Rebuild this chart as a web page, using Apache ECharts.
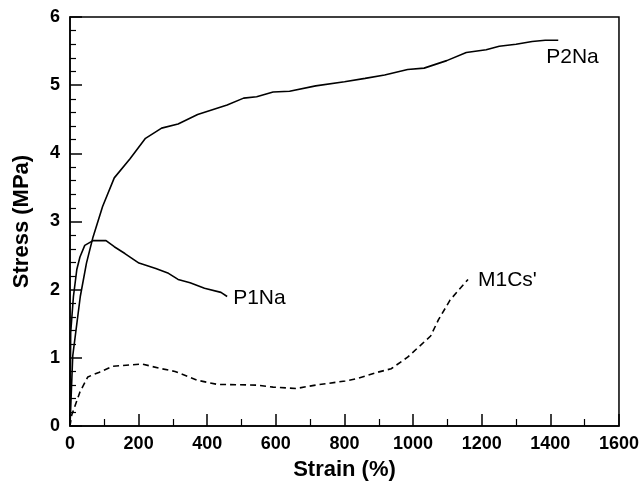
<!DOCTYPE html>
<html>
<head>
<meta charset="utf-8">
<script src="https://cdn.jsdelivr.net/npm/echarts@6/dist/echarts.min.js"></script>
<style>
  html, body { margin: 0; padding: 0; background: #fff; }
  #chart { width: 642px; height: 486px; }
</style>
</head>
<body>
<div id="chart"></div>
<script>
// strain (%) / stress (MPa)
var p2naStrain = [0, 8, 30, 48, 67, 95, 129, 175, 220, 267, 315, 372, 458, 506, 544, 592, 640, 716, 800, 860, 917, 984, 1032, 1098, 1155, 1213, 1251, 1300, 1347, 1385, 1423];
var p2naStress = [0, 1.03, 1.9, 2.39, 2.77, 3.22, 3.64, 3.92, 4.22, 4.37, 4.43, 4.57, 4.71, 4.81, 4.83, 4.9, 4.91, 4.99, 5.05, 5.1, 5.15, 5.23, 5.25, 5.36, 5.48, 5.52, 5.57, 5.6, 5.64, 5.66, 5.66];

var p1naStrain = [0, 2, 10, 20, 29, 43, 67, 105, 129, 160, 201, 250, 287, 315, 350, 392, 440, 458];
var p1naStress = [0, 1.37, 1.9, 2.3, 2.48, 2.65, 2.72, 2.72, 2.63, 2.53, 2.39, 2.31, 2.24, 2.15, 2.1, 2.02, 1.96, 1.9];

var m1csStrain = [0, 5, 29, 52, 86, 124, 210, 258, 306, 372, 430, 544, 592, 659, 716, 802, 840, 898, 936, 984, 1051, 1074, 1108, 1160];
var m1csStress = [0, 0.16, 0.5, 0.72, 0.79, 0.875, 0.91, 0.85, 0.8, 0.67, 0.61, 0.6, 0.57, 0.55, 0.6, 0.66, 0.7, 0.79, 0.84, 1.01, 1.32, 1.56, 1.85, 2.15];

var xTicks = [0, 200, 400, 600, 800, 1000, 1200, 1400, 1600];
var yTicks = [0, 1, 2, 3, 4, 5, 6];

function pairs(xs, ys) {
    var out = [];
    for (var i = 0; i < xs.length; i++) out.push([xs[i], ys[i]]);
    return out;
}

var font = 'Liberation Sans';

function curve(name, xs, ys, dashed, offset) {
    return {
        name: name,
        type: 'line',
        data: pairs(xs, ys),
        showSymbol: false,
        silent: true,
        animation: false,
        lineStyle: {
            color: '#000',
            width: 1.6,
            type: dashed ? [6, 4] : 'solid'
        },
        endLabel: {
            show: true,
            formatter: '{a}',
            color: '#000',
            fontFamily: font,
            fontSize: 21,
            offset: offset
        }
    };
}

var myChart = echarts.init(document.getElementById('chart'));
var option = {
    backgroundColor: '#fff',
    animation: false,
    grid: {
        left: 70,
        top: 17,
        right: 15,
        bottom: 55,
        show: true,
        borderColor: '#000',
        borderWidth: 1.5
    },
    xAxis: {
        type: 'value',
        min: xTicks[0],
        max: xTicks[xTicks.length - 1],
        interval: 200,
        name: 'Strain (%)',
        nameLocation: 'middle',
        nameGap: 33,
        nameTextStyle: { color: '#000', fontFamily: font, fontSize: 22, fontWeight: 'bold' },
        axisLine: { lineStyle: { color: '#000', width: 1.5 } },
        axisTick: { inside: true, length: 12, lineStyle: { color: '#000', width: 1.5 } },
        minorTick: { show: true, splitNumber: 2, length: 7, lineStyle: { color: '#000', width: 1.2 } },
        axisLabel: {
            color: '#000', fontFamily: font, fontSize: 18, fontWeight: 'bold', margin: 9,
            formatter: function (v) { return String(v); }
        },
        splitLine: { show: false }
    },
    yAxis: {
        type: 'value',
        min: yTicks[0],
        max: yTicks[yTicks.length - 1],
        interval: 1,
        name: 'Stress (MPa)',
        nameLocation: 'middle',
        nameGap: 37,
        nameRotate: 90,
        nameTextStyle: { color: '#000', fontFamily: font, fontSize: 22, fontWeight: 'bold' },
        axisLine: { lineStyle: { color: '#000', width: 1.5 } },
        axisTick: { inside: true, length: 12, lineStyle: { color: '#000', width: 1.5 } },
        minorTick: { show: true, splitNumber: 5, length: 6, lineStyle: { color: '#000', width: 1.2 } },
        axisLabel: {
            color: '#000', fontFamily: font, fontSize: 18, fontWeight: 'bold', margin: 10,
            formatter: function (v) { return String(v); }
        },
        splitLine: { show: false }
    },
    series: [
        curve('P2Na', p2naStrain, p2naStress, false, [-20, 17]),
        curve('P1Na', p1naStrain, p1naStress, false, [-2, 2]),
        curve("M1Cs'", m1csStrain, m1csStress, true, [2, 1])
    ]
};
myChart.setOption(option);
</script>
</body>
</html>
